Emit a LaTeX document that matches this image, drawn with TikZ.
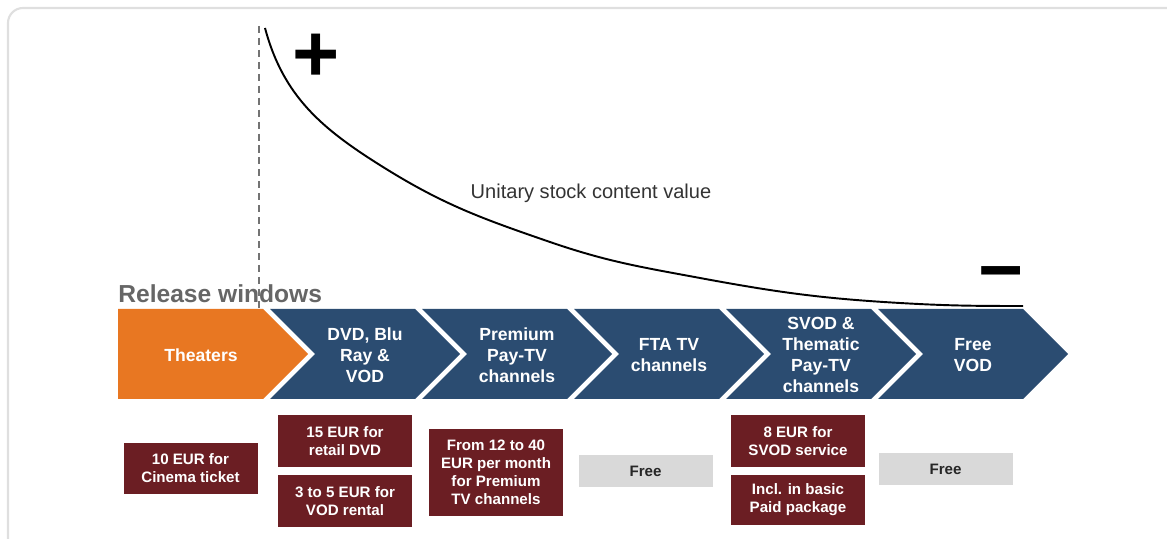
\documentclass[tikz,border=0pt]{standalone}
\usepackage{fontspec}
\setmainfont{Liberation Sans}
\definecolor{orangewin}{HTML}{E87722}
\definecolor{bluewin}{HTML}{2B4C71}
\definecolor{redbox}{HTML}{6B1E23}
\definecolor{graybox}{HTML}{D9D9D9}
\tikzset{
	wintext/.style={text=white, font=\fontsize{10}{12}\selectfont\bfseries, align=center},
	pricebox/.style={fill=redbox, text=white, font=\fontsize{8.6}{10.2}\selectfont\bfseries, align=center, minimum width=2.68cm, inner sep=0pt},
	freebox/.style={fill=graybox, text=black!85, font=\fontsize{8.6}{10.2}\selectfont\bfseries, minimum width=2.68cm, minimum height=0.64cm, inner sep=0pt},
}
\begin{document}
\begin{tikzpicture}
	\useasboundingbox (0,0) rectangle (23.34,10.76);
	\path
	coordinate (val1) at (5.30,10.20)
	coordinate (val2) at (7.66,7.42)
	coordinate (val3) at (11.0,5.92)
	coordinate (val4) at (14.0,5.20)
	coordinate (val5) at (18.0,4.70)
	coordinate (val6) at (20.46,4.64)
	coordinate (dash1) at (5.18,10.24)
	coordinate (dash2) at (5.18,4.60)
	;
\draw[gray!25, line width=1.2pt, rounded corners=0.3cm]
	(0.16,-0.2) --
	(0.16,10.6) --
	(23.6,10.6);
\draw[black!55, line width=0.7pt, dash pattern=on 4pt off 2.8pt]
	(dash1) -- (dash2);
\draw[line width=1.1pt]
	(val1) to[out=-75,in=148]
	(val2) to[out=-32,in=161]
	(val3) to[out=-19,in=169.5]
	(val4) to[out=-10.5,in=176.7]
	(val5) to[out=-3.3,in=180]
	(val6);
	\node (plus) at (6.32,9.60) {\fontsize{46}{46}\selectfont\bfseries +};
	\node (minus) at (20.02,5.12) {\fontsize{44}{44}\selectfont\bfseries −};
	\node[text=black!80, font=\fontsize{11.4}{13}\selectfont] (value) at (11.82,6.90) {Unitary stock content value};
	\node[anchor=west, inner sep=0pt, text=black!60, font=\fontsize{14}{16}\selectfont\bfseries] (release) at (2.36,4.88) {Release windows};
% release windows
\fill[orangewin]
	(2.36,4.58) -- (5.26,4.58) -- (6.16,3.68) -- (5.26,2.78) -- (2.36,2.78) -- cycle;
\fill[bluewin]
	(5.40,4.58) -- (8.30,4.58) -- (9.20,3.68) -- (8.30,2.78) -- (5.40,2.78) -- (6.30,3.68) -- cycle;
\fill[bluewin]
	(8.44,4.58) -- (11.34,4.58) -- (12.24,3.68) -- (11.34,2.78) -- (8.44,2.78) -- (9.34,3.68) -- cycle;
\fill[bluewin]
	(11.48,4.58) -- (14.38,4.58) -- (15.28,3.68) -- (14.38,2.78) -- (11.48,2.78) -- (12.38,3.68) -- cycle;
\fill[bluewin]
	(14.52,4.58) -- (17.42,4.58) -- (18.32,3.68) -- (17.42,2.78) -- (14.52,2.78) -- (15.42,3.68) -- cycle;
\fill[bluewin]
	(17.56,4.58) -- (20.46,4.58) -- (21.36,3.68) -- (20.46,2.78) -- (17.56,2.78) -- (18.46,3.68) -- cycle;
	\node[wintext] (theaters) at (4.02,3.66) {Theaters};
	\node[wintext] (dvd) at (7.30,3.66) {DVD, Blu\\Ray \&\\VOD};
	\node[wintext] (paytv) at (10.34,3.66) {Premium\\Pay-TV\\channels};
	\node[wintext] (fta) at (13.38,3.66) {FTA TV\\channels};
	\node[wintext] (svod) at (16.42,3.66) {SVOD \&\\Thematic\\Pay-TV\\channels};
	\node[wintext] (freevod) at (19.46,3.66) {Free\\VOD};
% prices
	\node[pricebox, minimum height=1.02cm] (cinema) at (3.81,1.39) {10 EUR for\\Cinema ticket};
	\node[pricebox, minimum height=1.04cm] (retail) at (6.90,1.94) {15 EUR for\\retail DVD};
	\node[pricebox, minimum height=1.04cm] (rental) at (6.90,0.74) {3 to 5 EUR for\\VOD rental};
	\node[pricebox, minimum height=1.74cm] (month) at (9.92,1.31) {From 12 to 40\\EUR per month\\for Premium\\TV channels};
	\node[freebox] (free1) at (12.91,1.34) {Free};
	\node[pricebox, minimum height=1.04cm] (service) at (15.96,1.94) {8 EUR for\\SVOD service};
	\node[pricebox, minimum height=1.00cm] (basic) at (15.96,0.76) {Incl. in basic\\Paid package};
	\node[freebox] (free2) at (18.91,1.38) {Free};
\end{tikzpicture}
\end{document}
